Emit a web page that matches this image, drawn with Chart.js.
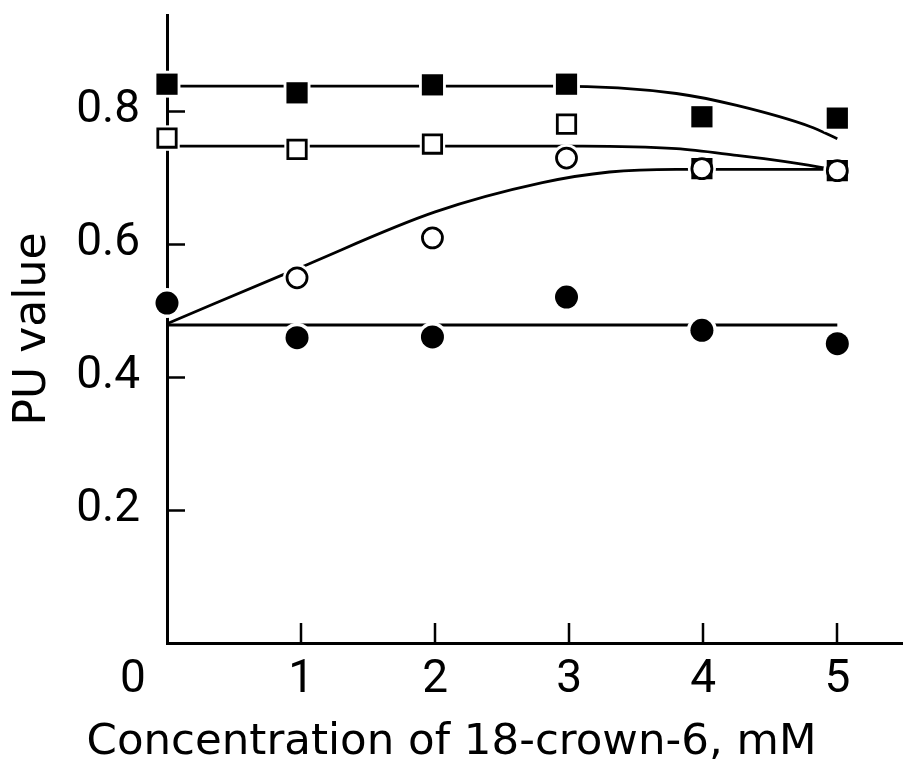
<!DOCTYPE html>
<html><head><meta charset="utf-8">
<script src="https://cdn.jsdelivr.net/npm/chart.js@4.4.1/dist/chart.umd.min.js"></script>
<style>html,body{margin:0;padding:0;background:#fff;}#wrap{width:903px;height:767px;}</style>
</head><body><div id="wrap"><canvas id="c" width="903" height="767"></canvas></div>
<script>
// ---- data ----
const xConc = [0, 0.97, 1.98, 2.98, 3.99, 5.0];
const filledSquares = [0.840, 0.827, 0.839, 0.840, 0.791, 0.789];
const openSquares   = [0.759, 0.742, 0.750, 0.780, 0.713, 0.710];
const openCircleX   = [0.97, 1.98, 2.98, 3.99, 5.0];
const openCircles   = [0.549, 0.609, 0.729, 0.713, 0.710];
const filledCircles = [0.511, 0.459, 0.460, 0.520, 0.470, 0.450];

// fitted curves
const fsCurveX = [0, 2.9, 3.8, 4.25, 4.8, 5.0];
const fsCurveY = [0.837, 0.837, 0.826, 0.808, 0.776, 0.758];
const osCurveX = [0, 3.1, 3.8, 4.25, 4.6, 5.0];
const osCurveY = [0.747, 0.747, 0.743, 0.733, 0.724, 0.711];
const ocCurveX = [0, 1, 2, 2.8, 3.3, 3.8, 5.0];
const ocCurveY = [0.480, 0.565, 0.648, 0.692, 0.708, 0.712, 0.712];
const fcLineX  = [0, 5.0];
const fcLineY  = [0.478, 0.478];

const xTicks = [1, 2, 3, 4, 5];
const yTicks = [0.2, 0.4, 0.6, 0.8];
const originLabel = '0';
const xTitle = 'Concentration of 18-crown-6, mM';
const yTitle = 'PU value';

const FONT = "Roboto, 'DejaVu Sans', sans-serif";
const TFONT = "'DejaVu Sans', Roboto, sans-serif";
const pts = (xs, ys) => xs.map((x, i) => ({x: x, y: ys[i]}));

function markers(data, style, r, fill, bw, order) {
  return {data, showLine:false, clip:false, pointStyle:style, pointRadius:r, pointHoverRadius:r,
    pointBackgroundColor:fill, pointBorderColor:'#000', pointBorderWidth:bw, order};
}
function halo(data, style, r) {
  return {data, showLine:false, clip:false, pointStyle:style, pointRadius:r, pointHoverRadius:r,
    pointBackgroundColor:'#fff', pointBorderWidth:0, order:5};
}
function curve(data) {
  return {data, showLine:true, clip:false, pointRadius:0, borderColor:'#000', borderWidth:2.8,
    cubicInterpolationMode:'monotone', fill:false, order:10};
}

const fsPts = pts(xConc, filledSquares);
const osPts = pts(xConc, openSquares);
const ocPts = pts(openCircleX, openCircles);
const fcPts = pts(xConc, filledCircles);

function zeroPad(s) { s.paddingTop = 0; s.paddingBottom = 0; s.paddingLeft = 0; s.paddingRight = 0; }

const extras = {
  id:'extras',
  afterDraw(chart) {
    const {ctx, scales:{x, y}, chartArea:a} = chart;
    ctx.save();
    ctx.strokeStyle = '#000'; ctx.lineWidth = 2.5;
    ctx.beginPath();
    yTicks.forEach(v => { const py = Math.round(y.getPixelForValue(v)) + 0.5; ctx.moveTo(a.left, py); ctx.lineTo(a.left + 18, py); });
    xTicks.forEach(v => { const px = Math.round(x.getPixelForValue(v)); ctx.moveTo(px, a.bottom); ctx.lineTo(px, a.bottom - 20); });
    ctx.stroke();
    ctx.fillStyle = '#000';
    ctx.font = '46px ' + FONT;
    ctx.textAlign = 'center'; ctx.textBaseline = 'middle';
    ctx.fillText(originLabel, x.getPixelForValue(0) - 34, x.top + 14 + 23);
    ctx.restore();
  }
};

new Chart(document.getElementById('c'), {
  type:'scatter',
  data:{datasets:[
    curve(pts(fsCurveX, fsCurveY)),
    curve(pts(osCurveX, osCurveY)),
    curve(pts(ocCurveX, ocCurveY)),
    curve(pts(fcLineX, fcLineY)),
    halo(fsPts, 'rect', 19), halo(osPts, 'rect', 18), halo(ocPts, 'circle', 14), halo(fcPts, 'circle', 15),
    markers(fsPts, 'rect', 15, '#000', 0, 1),
    markers(osPts, 'rect', 13, '#fff', 2.8, 2),
    markers(ocPts, 'circle', 10, '#fff', 2.8, 1),
    markers(fcPts, 'circle', 11.5, '#000', 0, 1)
  ]},
  plugins:[extras],
  options:{
    responsive:false, animation:false, devicePixelRatio:1,
    layout:{autoPadding:false, padding:{top:15, right:0, bottom:0, left:0}},
    plugins:{legend:{display:false}, tooltip:{enabled:false},
      title:{display:true, position:'bottom', text:xTitle, color:'#000',
        font:{family:TFONT, size:43.5, weight:'normal', lineHeight:1}, padding:{top:0, bottom:3}}},
    scales:{
      x:{type:'linear', min:0, max:5.49, z:1,
        afterBuildTicks:s => { s.ticks = xTicks.map(v => ({value:v})); },
        afterFit:s => { s.height = 124 - 46.5; zeroPad(s); },
        grid:{display:false, drawTicks:false},
        border:{display:true, color:'#000', width:3},
        ticks:{color:'#000', padding:14, maxRotation:0, autoSkip:false,
          font:{family:FONT, size:46, lineHeight:1}, callback:v => String(v)}},
      y:{type:'linear', min:0, max:0.944, z:1,
        afterBuildTicks:s => { s.ticks = yTicks.map(v => ({value:v})); },
        afterFit:s => { s.width = 167; zeroPad(s); },
        grid:{display:false, drawTicks:false},
        border:{display:true, color:'#000', width:3},
        ticks:{color:'#000', padding:27, autoSkip:false,
          font:{family:FONT, size:46, lineHeight:1}, callback:v => v.toFixed(1)},
        title:{display:true, text:yTitle, color:'#000',
          font:{family:TFONT, size:44, lineHeight:1}, padding:{top:12, bottom:0}}}
    }
  }
});
</script></body></html>
